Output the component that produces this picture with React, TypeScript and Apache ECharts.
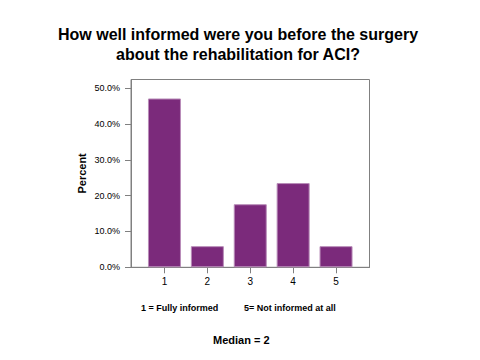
import React, { useEffect, useRef } from "react";
import * as echarts from "echarts";

const categories = [1, 2, 3, 4, 5];
const percents = [47.1, 5.9, 17.6, 23.5, 5.9];
const yTicks = [0, 10, 20, 30, 40, 50];
const titleLines = [
  "How well informed were you before the surgery",
  "about the rehabilitation for ACI?",
];
const noteLeft = "1 = Fully informed";
const noteRight = "5= Not informed at all";
const medianText = "Median = 2";

export default function App() {
  const ref = useRef<HTMLDivElement>(null);
  useEffect(() => {
    document.body.style.margin = "0";
    const chart = echarts.init(ref.current!, null, { renderer: "svg" });
    const font = "Liberation Sans, Arial, sans-serif";
    chart.setOption({
      animation: false,
      backgroundColor: "#ffffff",
      title: {
        text: titleLines.join("\n"),
        left: 233,
        top: 19,
        textAlign: "center",
        textStyle: {
          fontFamily: font,
          fontSize: 16,
          fontWeight: "bold",
          color: "#000",
          lineHeight: 20,
        },
      },
      grid: {
        left: 131,
        top: 79.5,
        right: 110.5,
        bottom: 92.7,
        show: true,
        borderColor: "#808080",
        borderWidth: 1,
        containLabel: false,
      },
      xAxis: {
        type: "value",
        min: 0.22,
        max: 5.78,
        axisLine: { show: true, lineStyle: { color: "#808080" } },
        axisTick: {
          show: true,
          length: 6,
          customValues: categories,
          lineStyle: { color: "#808080" },
        },
        axisLabel: {
          customValues: categories,
          fontFamily: font,
          fontSize: 10,
          color: "#000",
          margin: 9,
        },
        splitLine: { show: false },
      },
      yAxis: {
        type: "value",
        min: 0,
        max: 52.4,
        name: "Percent",
        nameLocation: "middle",
        nameGap: 44,
        nameTextStyle: {
          fontFamily: font,
          fontSize: 11,
          fontWeight: "bold",
          color: "#000",
        },
        axisLine: { show: true, lineStyle: { color: "#808080" } },
        axisTick: {
          show: true,
          length: 6,
          customValues: yTicks,
          lineStyle: { color: "#808080" },
        },
        axisLabel: {
          customValues: yTicks,
          formatter: (v: number) => v.toFixed(1) + "%",
          fontFamily: font,
          fontSize: 9,
          color: "#000",
          margin: 11,
        },
        splitLine: { show: false },
      },
      series: [
        {
          type: "bar",
          data: categories.map((c, i) => [c, percents[i]]),
          barWidth: 33,
          itemStyle: {
            color: "#7b2a7b",
            borderColor: "#b88cb8",
            borderWidth: 1,
          },
        },
      ],
      graphic: [
        {
          type: "text",
          left: 141,
          top: 303,
          style: {
            text: noteLeft,
            fontFamily: font,
            fontSize: 9,
            fontWeight: "bold",
            fill: "#000",
          },
        },
        {
          type: "text",
          left: 244,
          top: 303,
          style: {
            text: noteRight,
            fontFamily: font,
            fontSize: 9,
            fontWeight: "bold",
            fill: "#000",
          },
        },
        {
          type: "text",
          left: 213,
          top: 334,
          style: {
            text: medianText,
            fontFamily: font,
            fontSize: 11,
            fontWeight: "bold",
            fill: "#000",
          },
        },
      ],
    });
    return () => chart.dispose();
  }, []);
  return <div ref={ref} style={{ width: 480, height: 360 }} />;
}
